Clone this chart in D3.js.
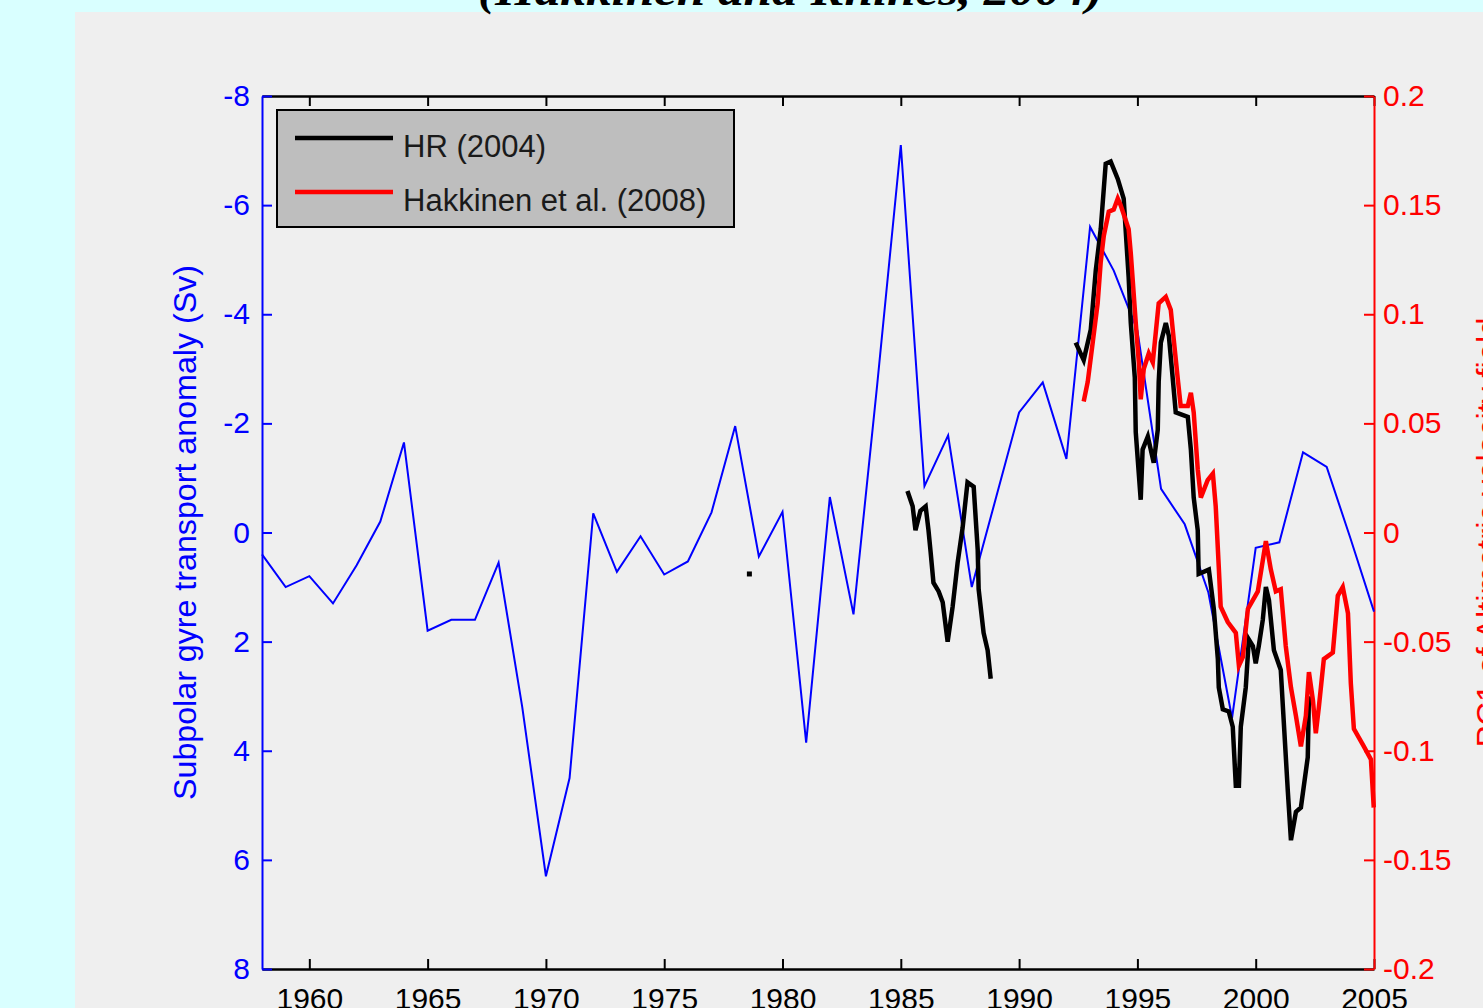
<!DOCTYPE html>
<html>
<head>
<meta charset="utf-8">
<script src="https://cdn.jsdelivr.net/npm/d3@7"></script>
<style>
  html, body { margin: 0; padding: 0; background: #d9ffff; overflow: hidden; }
  svg { display: block; }
  text { font-family: "Liberation Sans", Arial, Helvetica, sans-serif; }
</style>
</head>
<body>
<svg id="chart" width="1483" height="1008"></svg>
<script>
// Subpolar gyre transport anomaly (Sv), annual values, left axis (inverted)
const gyreYears = d3.range(1958, 2006);
const gyreTransport = [
  0.4, 1.0, 0.8, 1.3, 0.6, -0.2, -1.65, 1.8, 1.6, 1.6,
  0.55, 3.2, 6.3, 4.5, -0.35, 0.72, 0.07, 0.77, 0.53, -0.37,
  -1.95, 0.44, -0.38, 3.85, -0.65, 1.5, -2.7, -7.1, -0.85, -1.78,
  1.0, -0.6, -2.2, -2.75, -1.35, -5.6, -4.8, -3.7, -0.8, -0.15,
  1.1, 3.4, 0.28, 0.18, -1.47, -1.2, 0.1, 1.45
];

// HR (2004) PC1, right axis: single early value
const hrDotYears = [1978.6];
const hrDotPc1 = [-0.019];

// HR (2004) PC1, first stretch (1985-1989)
const hrYearsA = [
  1985.28, 1985.50, 1985.62, 1985.83, 1986.05, 1986.17, 1986.26, 1986.38,
  1986.60, 1986.77, 1986.98, 1987.19, 1987.40, 1987.61, 1987.82, 1988.08,
  1988.25, 1988.29, 1988.50, 1988.67, 1988.80
];
const hrPc1A = [
  0.019, 0.012, 0.001, 0.010, 0.012, 0.001, -0.009, -0.023,
  -0.027, -0.032, -0.050, -0.034, -0.014, 0.002, 0.023, 0.021,
  -0.008, -0.026, -0.046, -0.054, -0.067
];

// HR (2004) PC1, second stretch (1992-2002)
const hrYearsB = [
  1992.39, 1992.73, 1993.03, 1993.24, 1993.45, 1993.66, 1993.87, 1994.17,
  1994.42, 1994.63, 1994.72, 1994.89, 1994.93, 1995.14, 1995.22, 1995.44,
  1995.69, 1995.86, 1995.90, 1995.99, 1996.20, 1996.33, 1996.49, 1996.62,
  1997.13, 1997.26, 1997.38, 1997.55, 1997.59, 1998.02, 1998.23, 1998.40,
  1998.44, 1998.61, 1998.86, 1999.03, 1999.16, 1999.29, 1999.37, 1999.58,
  1999.71, 1999.88, 2000.00, 2000.13, 2000.30, 2000.43, 2000.56, 2000.77,
  2001.06, 2001.15, 2001.36, 2001.49, 2001.70, 2001.91, 2002.20, 2002.25
];
const hrPc1B = [
  0.087, 0.079, 0.093, 0.120, 0.139, 0.169, 0.170, 0.162,
  0.153, 0.117, 0.096, 0.071, 0.046, 0.015, 0.038, 0.044,
  0.032, 0.047, 0.069, 0.087, 0.096, 0.090, 0.071, 0.055,
  0.053, 0.038, 0.016, 0.001, -0.019, -0.017, -0.035, -0.058,
  -0.071, -0.081, -0.082, -0.089, -0.116, -0.116, -0.089, -0.071,
  -0.049, -0.052, -0.060, -0.052, -0.040, -0.025, -0.031, -0.054,
  -0.063, -0.080, -0.119, -0.141, -0.128, -0.126, -0.103, -0.075
];

// Hakkinen et al. (2008) PC1, right axis
const hakYears = [
  1992.73, 1992.90, 1993.11, 1993.32, 1993.45, 1993.58, 1993.79, 1994.00,
  1994.17, 1994.29, 1994.51, 1994.63, 1994.72, 1994.80, 1994.93, 1995.06,
  1995.14, 1995.27, 1995.48, 1995.65, 1995.78, 1995.90, 1996.20, 1996.41,
  1996.54, 1996.71, 1996.83, 1997.13, 1997.26, 1997.38, 1997.55, 1997.68,
  1997.97, 1998.19, 1998.31, 1998.44, 1998.52, 1998.82, 1999.16, 1999.29,
  1999.46, 1999.67, 2000.09, 2000.43, 2000.64, 2000.85, 2001.06, 2001.27,
  2001.49, 2001.70, 2001.91, 2002.12, 2002.25, 2002.42, 2002.54, 2002.67,
  2002.88, 2003.26, 2003.47, 2003.68, 2003.90, 2004.02, 2004.15, 2004.57,
  2004.87, 2004.99
];
const hakPc1 = [
  0.060, 0.069, 0.087, 0.105, 0.124, 0.136, 0.147, 0.148,
  0.153, 0.150, 0.143, 0.139, 0.128, 0.116, 0.096, 0.078,
  0.061, 0.075, 0.082, 0.078, 0.092, 0.105, 0.108, 0.102,
  0.088, 0.070, 0.058, 0.058, 0.064, 0.055, 0.029, 0.016,
  0.024, 0.027, 0.012, -0.016, -0.034, -0.041, -0.046, -0.061,
  -0.057, -0.035, -0.027, -0.004, -0.017, -0.027, -0.026, -0.052,
  -0.071, -0.084, -0.098, -0.084, -0.064, -0.077, -0.092, -0.080,
  -0.058, -0.055, -0.029, -0.025, -0.037, -0.069, -0.090, -0.098,
  -0.104, -0.126
];

// Tick values
const yearTicks = d3.range(1960, 2006, 5);
const transportTicks = [-8, -6, -4, -2, 0, 2, 4, 6, 8];
const pcTicks = [0.2, 0.15, 0.1, 0.05, 0, -0.05, -0.1, -0.15, -0.2];

const legendLabels = ["HR (2004)", "Hakkinen et al. (2008)"];
const legendColors = ["#000000", "#ff0000"];

const BLUE = "#0000ff", RED = "#ff0000", BLACK = "#000000";
const plot = { left: 262, right: 1374, top: 96, bottom: 969 };

const svg = d3.select("#chart");

// figure panel
svg.append("rect")
  .attr("x", 75).attr("y", 12)
  .attr("width", 1483 - 75).attr("height", 1008 - 12)
  .attr("fill", "#efefef");

// title (mostly above the visible area)
svg.append("text")
  .attr("x", 478).attr("y", 5)
  .attr("textLength", 625).attr("lengthAdjust", "spacingAndGlyphs")
  .style("font-family", "'Liberation Serif', 'Times New Roman', serif")
  .style("font-style", "italic").style("font-weight", "bold")
  .style("font-size", "44px").attr("fill", BLACK)
  .text("(Hakkinen and Rhines, 2004)");

const x = d3.scaleLinear().domain([1958, 2005]).range([plot.left, plot.right]);
const yL = d3.scaleLinear().domain([-8, 8]).range([plot.top, plot.bottom]);
const yR = d3.scaleLinear().domain([0.2, -0.2]).range([plot.top, plot.bottom]);

const tickFont = "30px";

// bottom axis
const gBottom = svg.append("g")
  .attr("transform", `translate(0,${plot.bottom})`)
  .call(d3.axisBottom(x).tickValues(yearTicks).tickFormat(d3.format("d"))
    .tickSizeInner(-10).tickSizeOuter(0).tickPadding(19));
// top axis (ticks only)
const gTop = svg.append("g")
  .attr("transform", `translate(0,${plot.top})`)
  .call(d3.axisTop(x).tickValues(yearTicks).tickFormat("")
    .tickSizeInner(-10).tickSizeOuter(0));
[gBottom, gTop].forEach(g => {
  g.select(".domain").attr("stroke", BLACK).attr("stroke-width", 2.5);
  g.selectAll(".tick line").attr("stroke", BLACK).attr("stroke-width", 2);
  g.selectAll(".tick text").attr("fill", BLACK).style("font-size", tickFont)
    .style("font-family", "'Liberation Sans', Arial, sans-serif");
});

// left axis (transport)
const gLeft = svg.append("g")
  .attr("transform", `translate(${plot.left},0)`)
  .call(d3.axisLeft(yL).tickValues(transportTicks).tickFormat(d3.format("d"))
    .tickSizeInner(-10).tickSizeOuter(0).tickPadding(12));
gLeft.select(".domain").attr("stroke", BLUE).attr("stroke-width", 2);
gLeft.selectAll(".tick line").attr("stroke", BLUE).attr("stroke-width", 2);
gLeft.selectAll(".tick text").attr("fill", BLUE).style("font-size", tickFont)
  .style("font-family", "'Liberation Sans', Arial, sans-serif")
  .text(d => (d < 0 ? "-" : "") + Math.abs(d));

// right axis (PC1)
const gRight = svg.append("g")
  .attr("transform", `translate(${plot.right},0)`)
  .call(d3.axisRight(yR).tickValues(pcTicks)
    .tickSizeInner(-10).tickSizeOuter(0).tickPadding(9));
gRight.select(".domain").attr("stroke", RED).attr("stroke-width", 2);
gRight.selectAll(".tick line").attr("stroke", RED).attr("stroke-width", 2);
gRight.selectAll(".tick text").attr("fill", RED).style("font-size", tickFont)
  .style("font-family", "'Liberation Sans', Arial, sans-serif")
  .text(d => (d < 0 ? "-" : "") + String(Math.abs(+d.toFixed(2))));

// axis titles
svg.append("text")
  .attr("transform", `translate(196,${(plot.top + plot.bottom) / 2}) rotate(-90)`)
  .attr("text-anchor", "middle")
  .attr("textLength", 535).attr("lengthAdjust", "spacingAndGlyphs")
  .style("font-size", "31px").attr("fill", BLUE)
  .text("Subpolar gyre transport anomaly (Sv)");
svg.append("text")
  .attr("transform", `translate(1499,${(plot.top + plot.bottom) / 2}) rotate(-90)`)
  .attr("text-anchor", "middle")
  .attr("textLength", 430).attr("lengthAdjust", "spacingAndGlyphs")
  .style("font-size", "31px").attr("fill", RED)
  .text("PC1 of Altimetric velocity field");

// series
const lineL = d3.line().x(d => x(d[0])).y(d => yL(d[1]));
const lineR = d3.line().x(d => x(d[0])).y(d => yR(d[1]));
const zip = (a, b) => a.map((v, i) => [v, b[i]]);

svg.append("path")
  .datum(zip(gyreYears, gyreTransport))
  .attr("d", lineL).attr("fill", "none")
  .attr("stroke", BLUE).attr("stroke-width", 2).attr("stroke-linejoin", "miter");

[zip(hrYearsA, hrPc1A), zip(hrYearsB, hrPc1B)].forEach(seg => {
  svg.append("path").datum(seg)
    .attr("d", lineR).attr("fill", "none")
    .attr("stroke", BLACK).attr("stroke-width", 4.5).attr("stroke-linejoin", "miter");
});
svg.selectAll("rect.hrdot")
  .data(zip(hrDotYears, hrDotPc1)).enter().append("rect")
  .attr("class", "hrdot")
  .attr("x", d => x(d[0]) - 2.5).attr("y", d => yR(d[1]) - 2.5)
  .attr("width", 5).attr("height", 5).attr("fill", BLACK);

svg.append("path")
  .datum(zip(hakYears, hakPc1))
  .attr("d", lineR).attr("fill", "none")
  .attr("stroke", RED).attr("stroke-width", 4.5).attr("stroke-linejoin", "miter");

// legend
const lg = svg.append("g").attr("transform", "translate(277,110)");
lg.append("rect").attr("width", 457).attr("height", 117)
  .attr("fill", "#bebebe").attr("stroke", BLACK).attr("stroke-width", 2);
legendLabels.forEach((label, i) => {
  const cy = 28 + i * 54;
  lg.append("line").attr("x1", 18).attr("x2", 116).attr("y1", cy).attr("y2", cy)
    .attr("stroke", legendColors[i]).attr("stroke-width", 4.5);
  lg.append("text").attr("x", 126).attr("y", cy + 19)
    .style("font-size", "31px").attr("fill", "#1a1a1a").text(label);
});
</script>
</body>
</html>
